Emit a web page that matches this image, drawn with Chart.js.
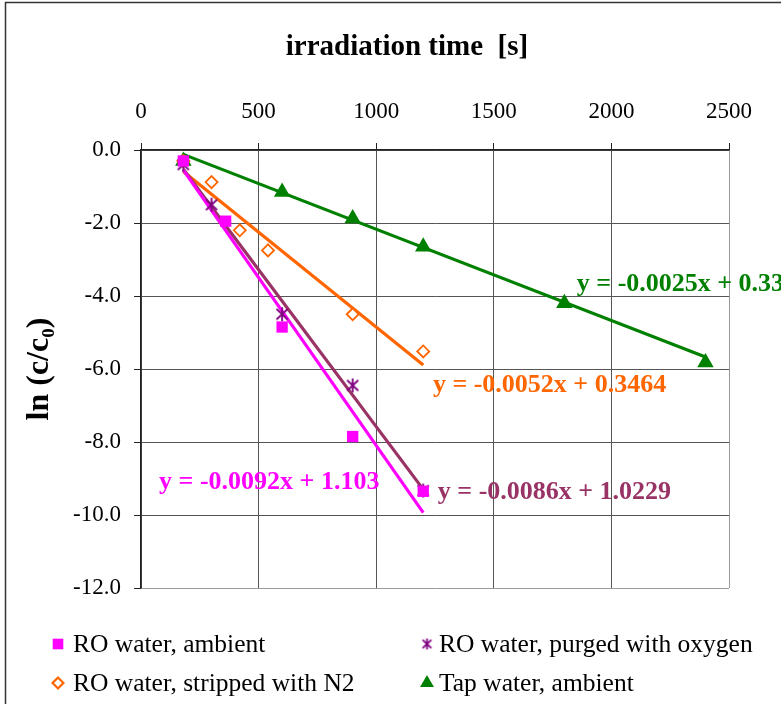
<!DOCTYPE html>
<html>
<head>
<meta charset="utf-8">
<script src="https://cdn.jsdelivr.net/npm/chart.js@4"></script>
<style>
  body { margin: 0; background: #fff; }
  canvas { display: block; }
</style>
</head>
<body>
<canvas id="chart" width="781" height="704"></canvas>
<script>
// irradiation time [s] and ln(c/c0) for each water type
const roAmbientX = [180, 360, 600, 900, 1200];
const roAmbientY = [-0.30, -1.95, -4.85, -7.85, -9.35];
const roOxygenX = [180, 300, 600, 900, 1200];
const roOxygenY = [-0.40, -1.50, -4.50, -6.45, -9.33];
const roNitrogenX = [180, 300, 420, 540, 900, 1200];
const roNitrogenY = [-0.30, -0.88, -2.20, -2.75, -4.50, -5.52];
const tapX = [180, 600, 900, 1200, 1800, 2400];
const tapY = [-0.30, -1.15, -1.88, -2.65, -4.20, -5.82];

const seriesNames = ['RO water, ambient', 'RO water, purged with oxygen', 'RO water, stripped with N2', 'Tap water, ambient'];

// linear fits: y = slope * x + intercept
const slopes = [-0.0092, -0.0086, -0.0052, -0.0025];
const intercepts = [1.103, 1.0229, 0.3464, 0.33];
const equationLabels = ['y = -0.0092x + 1.103', 'y = -0.0086x + 1.0229', 'y = -0.0052x + 0.3464', 'y = -0.0025x + 0.33'];

const xTicks = [0, 500, 1000, 1500, 2000, 2500];
const yTicks = [0, -2, -4, -6, -8, -10, -12];

const xs = [roAmbientX, roOxygenX, roNitrogenX, tapX];
const ys = [roAmbientY, roOxygenY, roNitrogenY, tapY];
const markerColors = ['#ff00ff', '#800080', '#ff6600', '#008000'];
const fitColors = ['#ff00ff', '#993366', '#ff6600', '#008000'];
const serif = '"Liberation Serif", "Times New Roman", serif';

// Excel-style asterisk: an x with a vertical stroke
function makeAsterisk(size, color) {
    const c = document.createElement('canvas');
    c.width = size; c.height = size;
    const g = c.getContext('2d');
    g.strokeStyle = color;
    g.lineWidth = 1.8;
    const m = size / 2, r = size / 2 - 1;
    g.beginPath();
    g.moveTo(m, m - r); g.lineTo(m, m + r);
    g.moveTo(m - r * 0.8, m - r * 0.75); g.lineTo(m + r * 0.8, m + r * 0.75);
    g.moveTo(m + r * 0.8, m - r * 0.75); g.lineTo(m - r * 0.8, m + r * 0.75);
    g.stroke();
    return c;
}
const asterisk = makeAsterisk(16, markerColors[1]);
const asteriskSmall = makeAsterisk(13, markerColors[1]);

const pointStyles = [
    { pointStyle: 'rect', pointRadius: 8, backgroundColor: markerColors[0], borderColor: markerColors[0], borderWidth: 0 },
    { pointStyle: asterisk, pointRadius: 8, backgroundColor: markerColors[1], borderColor: markerColors[1], borderWidth: 0 },
    { pointStyle: 'rectRot', pointRadius: 6, backgroundColor: '#ffffff', borderColor: markerColors[2], borderWidth: 1.8 },
    { pointStyle: 'triangle', pointRadius: 9.5, backgroundColor: markerColors[3], borderColor: markerColors[3], borderWidth: 0 }
];
const legendStyles = [
    { pointStyle: 'rect', radius: 7.5, fill: markerColors[0], stroke: markerColors[0], borderWidth: 0 },
    { pointStyle: asteriskSmall, radius: 6, fill: markerColors[1], stroke: markerColors[1], borderWidth: 0 },
    { pointStyle: 'rectRot', radius: 5.5, fill: '#ffffff', stroke: markerColors[2], borderWidth: 1.8 },
    { pointStyle: 'triangle', radius: 8, fill: markerColors[3], stroke: markerColors[3], borderWidth: 0 }
];

const datasets = [];
xs.forEach((xv, i) => {
    datasets.push(Object.assign({
        label: seriesNames[i],
        data: xv.map((x, k) => ({ x: x, y: ys[i][k] })),
        showLine: false
    }, pointStyles[i]));
});
// fit lines over each series' own x range
xs.forEach((xv, i) => {
    const x0 = xv[0], x1 = xv[xv.length - 1];
    datasets.push({
        label: 'fit ' + seriesNames[i],
        data: [x0, x1].map(x => ({ x: x, y: slopes[i] * x + intercepts[i] })),
        showLine: true,
        borderColor: fitColors[i],
        borderWidth: 3.2,
        pointRadius: 0,
        pointHoverRadius: 0
    });
});

// equation label anchors in data units (left edge, vertical middle)
const labelAnchors = [[77, -9.1], [1262, -9.38], [1241, -6.45], [1853, -3.69]];

const decorations = {
    id: 'decorations',
    beforeDraw(chart) {
        const ctx = chart.ctx;
        ctx.save();
        ctx.fillStyle = '#ffffff';
        ctx.fillRect(0, 0, chart.width, chart.height);
        ctx.strokeStyle = '#333333';
        ctx.lineWidth = 1.5;
        ctx.strokeRect(5.5, 2.5, chart.width + 20, chart.height + 20);
        ctx.restore();
    },
    afterDraw(chart) {
        const ctx = chart.ctx;
        const xs_ = chart.scales.x, ys_ = chart.scales.y;
        ctx.save();
        ctx.textBaseline = 'middle';

        // title above the top axis
        ctx.fillStyle = '#000000';
        ctx.font = 'bold 29px ' + serif;
        ctx.textAlign = 'center';
        ctx.fillText('irradiation time  [s]', 407, 48);

        // fitted equations
        ctx.textAlign = 'left';
        ctx.font = 'bold 26px ' + serif;
        equationLabels.forEach((t, i) => {
            ctx.fillStyle = fitColors[i];
            ctx.fillText(t, xs_.getPixelForValue(labelAnchors[i][0]), ys_.getPixelForValue(labelAnchors[i][1]));
        });

        // legend, two columns
        const markX = [58, 427];
        const textX = [73, 439];
        const rowY = [644, 683];
        ctx.font = '25.5px ' + serif;
        seriesNames.forEach((name, i) => {
            const col = i % 2, y = rowY[Math.floor(i / 2)];
            const s = legendStyles[i];
            ctx.fillStyle = s.fill;
            ctx.strokeStyle = s.stroke;
            ctx.lineWidth = s.borderWidth;
            Chart.helpers.drawPoint(ctx, { pointStyle: s.pointStyle, radius: s.radius, rotation: 0, borderWidth: s.borderWidth }, markX[col], y);
            if (s.borderWidth) ctx.stroke();
            ctx.fillStyle = '#000000';
            ctx.fillText(name, textX[col], y + 1);
        });
        ctx.restore();
    }
};

new Chart(document.getElementById('chart'), {
    type: 'scatter',
    data: { datasets: datasets },
    plugins: [decorations],
    options: {
        responsive: false,
        animation: false,
        events: [],
        layout: { autoPadding: false, padding: { left: 0, top: 0, right: 52, bottom: 116 } },
        plugins: { legend: { display: false }, tooltip: { enabled: false }, title: { display: false } },
        scales: {
            x: {
                type: 'linear',
                position: 'top',
                min: 0,
                max: 2500,
                afterFit: s => { s.height = 150; },
                afterBuildTicks: s => { s.ticks = xTicks.map(v => ({ value: v })); },
                ticks: { color: '#000000', padding: 17, font: { family: serif, size: 23 }, callback: v => String(v) },
                grid: { color: ctx => ctx.tick && ctx.tick.value === 2500 ? '#9a9a9a' : '#555555', lineWidth: 1, tickLength: 7, tickColor: '#222222' },
                border: { color: '#222222', width: 1.5 }
            },
            y: {
                type: 'linear',
                min: -12,
                max: 0,
                afterFit: s => { s.width = 141; },
                afterBuildTicks: s => { s.ticks = yTicks.map(v => ({ value: v })); },
                ticks: { color: '#000000', padding: 13, font: { family: serif, size: 23 }, callback: v => v.toFixed(1) },
                grid: { color: ctx => ctx.tick && ctx.tick.value === -12 ? '#9a9a9a' : '#555555', lineWidth: 1, tickLength: 7, tickColor: '#222222' },
                border: { color: '#222222', width: 1.5 },
                title: { display: true, text: 'ln (c/c₀)', color: '#000000', font: { family: serif, size: 32, weight: 'bold' }, padding: { top: 21, bottom: 0 } }
            }
        }
    }
});
</script>
</body>
</html>
